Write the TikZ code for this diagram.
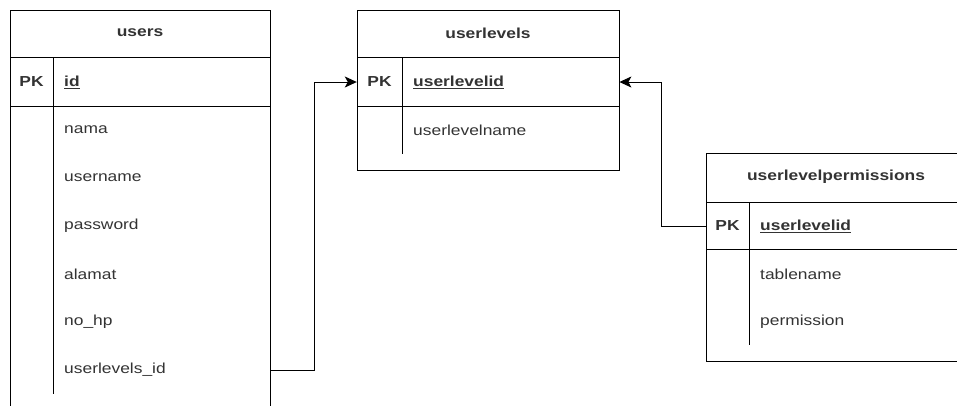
\documentclass[tikz,border=0pt]{standalone}
\usepackage{fontspec}
\setmainfont{Liberation Sans}[FakeStretch=1.2]
\usetikzlibrary{arrows.meta, positioning}
\definecolor{txtgray}{RGB}{51,51,51}

\begin{document}
\begin{tikzpicture}[x=1pt, y=-1pt,
  frame/.style={draw, line width=1pt},
  ttl/.style={font=\fontsize{14.5}{16}\selectfont\bfseries, text=txtgray},
  fld/.style={anchor=west, font=\fontsize{14.5}{16}\selectfont, text=txtgray, inner xsep=11pt, text width=195pt, align=left, minimum height=48pt},
  pkc/.style={font=\fontsize{14.5}{16}\selectfont\bfseries, text=txtgray, minimum width=43pt, minimum height=48pt, inner sep=0pt},
  link/.style={draw, line width=1pt, -{Stealth[length=12pt, width=11pt, inset=3pt]}}
]
  \clip (0,0) rectangle (957,405);

  % users
  \draw[frame] (10,420) -- (10,10) -- (270,10) -- (270,420);
  \draw[frame] (10,57) -- (270,57) (10,106) -- (270,106);
  \draw[frame] (53,57) -- (53,394);
  \node[ttl] (users) at (140,33) {users};
  \node[pkc] (u-pk) at (31.5,82) {PK};
  \node[fld] (u-id) at (53,82) {\textbf{\underline{id}}};
  \node[fld] (u-nama) at (53,130) {nama};
  \node[fld] (u-user) at (53,178) {username};
  \node[fld] (u-pass) at (53,226) {password};
  \node[fld] (u-alamat) at (53,274) {alamat};
  \node[fld] (u-hp) at (53,322) {no\_hp};
  \node[fld] (u-fk) at (53,370) {userlevels\_id};

  % userlevels
  \draw[frame] (357,10) rectangle (619,170);
  \draw[frame] (357,57) -- (619,57) (357,106) -- (619,106);
  \draw[frame] (402,57) -- (402,154);
  \node[ttl] (levels) at (488,33) {userlevels};
  \node[pkc, minimum width=45pt] (l-pk) at (379.5,82) {PK};
  \node[fld, text width=195pt] (l-id) at (402,82) {\textbf{\underline{userlevelid}}};
  \node[fld] (l-name) at (402,130) {userlevelname};

  % userlevelpermissions
  \draw[frame] (980,153) -- (706,153) -- (706,361) -- (980,361);
  \draw[frame] (706,202) -- (980,202) (706,249) -- (980,249);
  \draw[frame] (749,202) -- (749,345);
  \node[ttl] (perms) at (836,177) {userlevelpermissions};
  \node[pkc] (p-pk) at (727.5,226) {PK};
  \node[fld] (p-id) at (749,226) {\textbf{\underline{userlevelid}}};
  \node[fld] (p-table) at (749,274) {tablename};
  \node[fld] (p-perm) at (749,322) {permission};

  % relations
  \draw[link] (u-fk.east) -- ++(44,0) |- (l-pk.west);
  \draw[link] (p-pk.west) -- ++(-44,0) |- (l-id.east);
\end{tikzpicture}
\end{document}
